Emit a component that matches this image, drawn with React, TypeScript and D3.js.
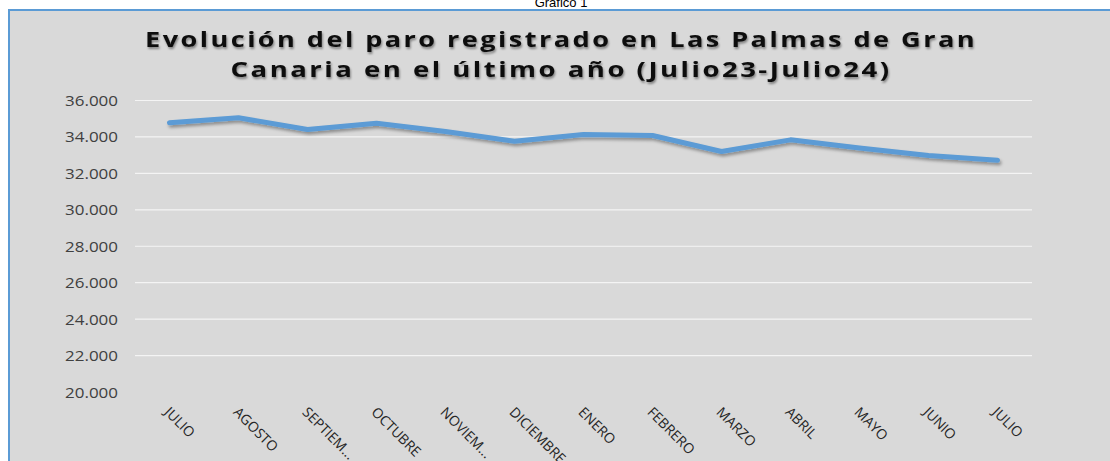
import * as d3 from "d3";

const WIDTH = 1110;
const HEIGHT = 461;
const PLOT = { left: 135, right: 1032, top: 100.5, bottom: 392 };

const months = [
  "JULIO",
  "AGOSTO",
  "SEPTIEM...",
  "OCTUBRE",
  "NOVIEM...",
  "DICIEMBRE",
  "ENERO",
  "FEBRERO",
  "MARZO",
  "ABRIL",
  "MAYO",
  "JUNIO",
  "JULIO",
];
const paro = [
  34780, 35050, 34410, 34750, 34300, 33760, 34130, 34080, 33200, 33840, 33390,
  32980, 32720,
];
const yTicks = [20000, 22000, 24000, 26000, 28000, 30000, 32000, 34000, 36000];
const titleLines = [
  "Evolución del paro registrado en Las Palmas de Gran",
  "Canaria en el último año (Julio23-Julio24)",
];

const fmt = (v: number) => d3.format(",")(v).replace(/,/g, ".");

export default function App() {
  const xScale = d3
    .scalePoint<number>()
    .domain(months.map((_, i) => i))
    .range([PLOT.left, PLOT.right])
    .padding(0.5);

  const yScale = d3
    .scaleLinear()
    .domain([20000, 36000])
    .range([PLOT.bottom, PLOT.top]);

  const line = d3
    .line<number>()
    .x((_, i) => xScale(i) ?? 0)
    .y((d) => yScale(d));

  // gridlines (no line at the bottom value)
  const grid = yTicks.map((t, i) => (
    <g key={i}>
      {t > 20000 && (
        <line
          x1={PLOT.left}
          x2={PLOT.right}
          y1={yScale(t)}
          y2={yScale(t)}
          stroke="#f4f4f4"
          strokeWidth={1.2}
        />
      )}
      <text
        x={118}
        y={yScale(t)}
        textAnchor="end"
        dominantBaseline="central"
        fontSize={14}
        fontFamily="'Open Sans', sans-serif"
        fill="#404040"
        textLength={53}
        lengthAdjust="spacingAndGlyphs"
      >
        {fmt(t)}
      </text>
    </g>
  ));

  const xLabels = months.map((m, i) => {
    const x = (xScale(i) ?? 0) - 6;
    const y = 413;
    return (
      <text
        key={i}
        transform={`translate(${x},${y}) rotate(45)`}
        fontSize={14}
        fontFamily="'Open Sans', sans-serif"
        fill="#262626"
      >
        {m}
      </text>
    );
  });

  return (
    <svg
      width={WIDTH}
      height={HEIGHT}
      style={{ position: "absolute", left: 0, top: 0, background: "#fff" }}
    >
      <defs>
        <filter id="lineShadow" x="-5%" y="-50%" width="110%" height="200%">
          <feDropShadow
            dx={1.5}
            dy={2.5}
            stdDeviation={1.5}
            floodColor="#000"
            floodOpacity={0.35}
          />
        </filter>
        <filter id="textShadow" x="-5%" y="-30%" width="110%" height="160%">
          <feDropShadow
            dx={1}
            dy={2}
            stdDeviation={1.2}
            floodColor="#000"
            floodOpacity={0.4}
          />
        </filter>
      </defs>

      <text
        x={561}
        y={7}
        textAnchor="middle"
        fontSize={13}
        fontFamily="'Liberation Sans', Arial, sans-serif"
        fill="#000"
      >
        Gráfico 1
      </text>

      {/* chart box */}
      <rect x={9} y={10} width={WIDTH - 9} height={HEIGHT - 10} fill="#d9d9d9" />
      <line x1={8} x2={WIDTH} y1={10} y2={10} stroke="#5b9bd5" strokeWidth={2} />
      <line x1={9} x2={9} y1={9} y2={HEIGHT} stroke="#5b9bd5" strokeWidth={2} />

      <g filter="url(#textShadow)">
        {titleLines.map((t, i) => (
          <text
            key={i}
            x={561}
            y={47 + i * 29.5}
            textAnchor="middle"
            fontSize={22}
            fontWeight="bold"
            fontFamily="'Open Sans', sans-serif"
            fill="#0d0d0d"
            letterSpacing={2}
            textLength={i === 0 ? 832 : 661}
            lengthAdjust="spacingAndGlyphs"
          >
            {t}
          </text>
        ))}
      </g>

      {grid}

      <path
        d={line(paro) ?? ""}
        fill="none"
        stroke="#5b9bd5"
        strokeWidth={5}
        strokeLinecap="round"
        strokeLinejoin="round"
        filter="url(#lineShadow)"
      />

      {xLabels}
    </svg>
  );
}
